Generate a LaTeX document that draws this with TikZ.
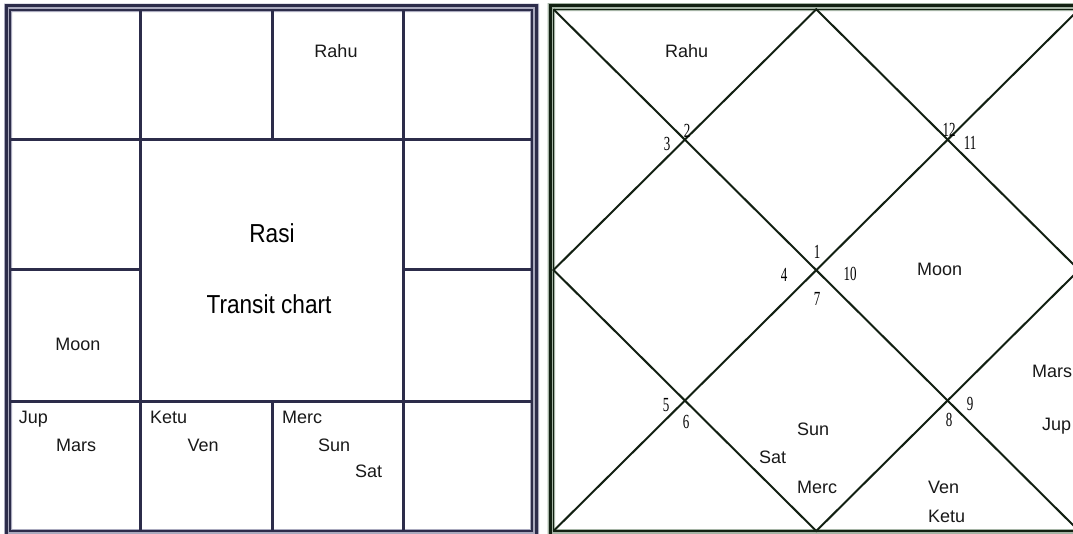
\documentclass[tikz,border=0pt]{standalone}
\usepackage{fontspec}
\setmainfont{Liberation Sans}
\newfontfamily\bigfont[FakeStretch=0.87]{Liberation Sans}
\newfontfamily\numfont[FakeStretch=0.65]{Liberation Serif}
\definecolor{navy}{RGB}{44,44,74}
\definecolor{navyhalo}{RGB}{170,170,190}
\definecolor{dkgreen}{RGB}{18,32,18}
\definecolor{greenhalo}{RGB}{165,180,165}
\begin{document}
\begin{tikzpicture}[x=1pt,y=-1pt,
  lbl/.style={font=\fontsize{18}{20}\selectfont, inner sep=0pt, anchor=base west, text=black!90},
  lblc/.style={lbl, anchor=base},
  num/.style={font=\numfont\fontsize{20}{22}\selectfont, inner sep=0pt},
  big/.style={font=\bigfont\fontsize{26}{28}\selectfont, inner sep=0pt, anchor=base},
  gridline/.style={draw=navy, line width=3pt},
  diagline/.style={draw=dkgreen, line width=2pt}]
\clip (0,0) rectangle (1073,533);
\fill[white] (0,0) rectangle (1073,533);

% ---------- left chart (square, Rasi) ----------
\fill[navyhalo, even odd rule] (4,3.5) rectangle (539,545) (12,12) rectangle (530,529);
\draw[navy, line width=2.2pt] (6.5,5.5) rectangle (536.5,545);
\draw[navy, line width=2pt] (10,10) rectangle (532,531);
% grid
\draw[gridline] (140,10) -- (140,531);
\draw[gridline] (403,10) -- (403,531);
\draw[gridline] (272,10) -- (272,139);
\draw[gridline] (272,401) -- (272,531);
\draw[gridline] (10,139) -- (532,139);
\draw[gridline] (10,401) -- (532,401);
\draw[gridline] (10,269) -- (140,269);
\draw[gridline] (403,269) -- (532,269);

\node[lblc] (lrahu) at (336,57) {Rahu};
\node[big] (rasi) at (272,242) {Rasi};
\node[big] (transit) at (269,313) {Transit chart};
\node[lblc] (lmoon) at (78,350) {Moon};
\node[lbl] (ljup) at (18.6,423) {Jup};
\node[lbl] (lmars) at (56,451) {Mars};
\node[lbl] (lketu) at (150,423) {Ketu};
\node[lbl] (lven) at (187.5,451) {Ven};
\node[lbl] (lmerc) at (282,423) {Merc};
\node[lbl] (lsun) at (318,451) {Sun};
\node[lbl] (lsat) at (355,477) {Sat};

% ---------- right chart (diamond) ----------
\fill[greenhalo, even odd rule] (547.5,3) rectangle (1090,545) (555,11) rectangle (1077,529);
\draw[dkgreen, line width=3pt] (550,5.3) rectangle (1085,545);
\draw[dkgreen, line width=1.6pt] (553.5,9.3) rectangle (1079,531);
\coordinate (TL) at (553.5,9.3);
\coordinate (TR) at (1079,9.3);
\coordinate (BL) at (553.5,531);
\coordinate (BR) at (1079,531);
\coordinate (T) at (816.25,9.3);
\coordinate (L) at (553.5,270);
\coordinate (B) at (816.25,531);
\coordinate (R) at (1079,270);
\draw[diagline] (TL) -- (BR);
\draw[diagline] (BL) -- (TR);
\draw[diagline, line join=miter] (T) -- (L) -- (B) -- (R) -- cycle;

\node[num] (n3) at (667,144) {3};
\node[num] (n2) at (687,131) {2};
\node[num] (n12) at (949,130) {12};
\node[num] (n11) at (970,143) {11};
\node[num] (n1) at (817,252) {1};
\node[num] (n4) at (784,275) {4};
\node[num] (n10) at (850,274) {10};
\node[num] (n7) at (817,299) {7};
\node[num] (n5) at (666,405) {5};
\node[num] (n6) at (686,422) {6};
\node[num] (n9) at (970,404) {9};
\node[num] (n8) at (949,420) {8};

\node[lbl] (rrahu) at (665,57.5) {Rahu};
\node[lbl] (rmoon) at (917,275) {Moon};
\node[lbl] (rmars) at (1032,377) {Mars};
\node[lbl] (rjup) at (1042,430) {Jup};
\node[lbl] (rsun) at (797,435) {Sun};
\node[lbl] (rsat) at (759,463) {Sat};
\node[lbl] (rmerc) at (797,493) {Merc};
\node[lbl] (rven) at (928,493) {Ven};
\node[lbl] (rketu) at (928,522) {Ketu};
\end{tikzpicture}
\end{document}
